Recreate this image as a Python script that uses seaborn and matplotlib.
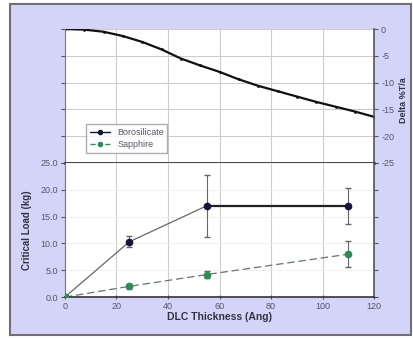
import numpy as np
import pandas as pd
import matplotlib
matplotlib.use("Agg")
import matplotlib.pyplot as plt
import seaborn as sns
from matplotlib.patches import Rectangle
from matplotlib.lines import Line2D

# transmission change curve (top panel)
delta_x = [0, 7.5, 15, 22.5, 30, 37.5, 45, 52.5, 60, 67.5, 75, 82.5, 90, 97.5, 105, 112.5, 120]
delta_y = [0, -0.1, -0.5, -1.3, -2.4, -3.8, -5.5, -6.8, -8.0, -9.4, -10.6, -11.6, -12.6, -13.6, -14.5, -15.4, -16.4]

# critical load (bottom panel)
thickness = [0, 25, 55, 110]
boro_load = [0, 10.3, 17.0, 17.0]
boro_err = [0, 1.0, 5.8, 3.4]
sapph_load = [0, 2.0, 4.2, 8.0]
sapph_err = [0, 0.5, 0.6, 2.4]

boro_col = "#14143c"
sapph_col = "#2e8b57"
lav = "#d4d4f8"

sns.set_style("white")
plt.rcParams["font.family"] = ["Liberation Sans", "DejaVu Sans"]
plt.rcParams["axes.unicode_minus"] = False

fig = plt.figure(figsize=(4.13, 3.38), dpi=100)
fig.patch.set_facecolor("white")
fig.patches.append(Rectangle((10 / 413, 3 / 338), 401 / 413, 331 / 338,
                             transform=fig.transFigure, facecolor=lav,
                             edgecolor="#707070", lw=1.5, zorder=-1))

ax_top = fig.add_axes([0.157, 0.518, 0.749, 0.396])
ax_bot = fig.add_axes([0.157, 0.121, 0.749, 0.397])

tick_kw = dict(labelsize=6.5, labelcolor="#555566", colors="#555555",
               length=3, width=0.8, pad=2)

# ---- top panel
df_top = pd.DataFrame({"x": delta_x, "y": delta_y})
sns.lineplot(data=df_top, x="x", y="y", ax=ax_top, color="#111111", lw=1.6,
             marker="o", markersize=2, markeredgewidth=0)
ax_top.set_xlim(0, 120)
ax_top.set_ylim(-25, 0)
ax_top.set_xticks(range(20, 120, 20))
ax_top.set_yticks(range(-25, 1, 5))
ax_top.set_xticklabels([])
ax_top.yaxis.tick_right()
ax_top.tick_params(axis="y", which="both", left=True, right=True, labelleft=False,
                   labelright=True, direction="out", **tick_kw)
ax_top.tick_params(axis="x", length=0)
ax_top.grid(True, color="#cccccc", lw=0.8)
ax_top.set_xlabel("")
ax_top.set_ylabel("")
ax_top.spines["top"].set_visible(False)
ax_top.spines["left"].set_color("#777777")
ax_top.spines["right"].set_color("#555555")
ax_top.spines["right"].set_linewidth(1.2)
ax_top.spines["bottom"].set_color("#111111")
ax_top.spines["bottom"].set_linewidth(1.8)

handles = [Line2D([], [], color=boro_col, marker="o", markersize=3, lw=1),
           Line2D([], [], color=sapph_col, marker="o", markersize=3, lw=1, ls="--")]
leg = ax_top.legend(handles, ["Borosilicate", "Sapphire"], loc="lower left",
                    bbox_to_anchor=(0.055, 0.04), fontsize=6.5, frameon=True,
                    fancybox=False, edgecolor="#999999", handlelength=2.2,
                    borderpad=0.4, labelspacing=0.4)
for t in leg.get_texts():
    t.set_color("#555566")

# ---- bottom panel
df_b = pd.DataFrame({"x": thickness, "y": boro_load})
df_s = pd.DataFrame({"x": thickness, "y": sapph_load})
sns.lineplot(data=df_b, x="x", y="y", ax=ax_bot, color="#666666", lw=0.9)
sns.lineplot(data=df_b.iloc[2:], x="x", y="y", ax=ax_bot, color="#222222", lw=1.6)
sns.lineplot(data=df_s, x="x", y="y", ax=ax_bot, color="#667766", lw=0.9, ls=(0, (6, 3)))
ax_bot.errorbar(thickness, boro_load, yerr=boro_err, fmt="o", color=boro_col,
                ecolor="#666666", elinewidth=0.8, capsize=2.5, markersize=4.5, zorder=5)
ax_bot.errorbar(thickness, sapph_load, yerr=sapph_err, fmt="o", color=sapph_col,
                ecolor="#666666", elinewidth=0.8, capsize=2.5, markersize=4.5, zorder=5)
ax_bot.set_xlim(0, 120)
ax_bot.set_ylim(0, 25)
ax_bot.set_xticks(range(0, 121, 20))
ax_bot.set_yticks(range(0, 26, 5))
ax_bot.set_yticklabels([f"{v:.1f}" for v in range(0, 26, 5)])
ax_bot.tick_params(axis="y", which="both", left=True, right=True, labelleft=True,
                   labelright=False, direction="out", **tick_kw)
ax_bot.tick_params(axis="x", bottom=True, direction="inout", **tick_kw)
ax_bot.grid(True, axis="x", color="#cccccc", lw=0.8)
ax_bot.grid(True, axis="y", color="#eeeeee", lw=0.6)
ax_bot.set_xlabel("DLC Thickness (Ang)", fontsize=7.5, fontweight="bold",
                  color="#333344", labelpad=1)
ax_bot.set_ylabel("Critical Load (kg)", fontsize=7, fontweight="bold",
                  color="#333344", labelpad=6)
ax_bot.spines["top"].set_visible(False)
ax_bot.spines["left"].set_color("#777777")
ax_bot.spines["right"].set_color("#555555")
ax_bot.spines["right"].set_linewidth(1.2)
ax_bot.spines["bottom"].set_color("#333333")
ax_bot.spines["bottom"].set_linewidth(1.2)

fig.text(403 / 413, 1 - 100 / 338, "Delta %T/a", rotation=90, ha="center",
         va="center", fontsize=6.5, fontweight="bold", color="#333344")

fig.savefig("out.png", dpi=100)
